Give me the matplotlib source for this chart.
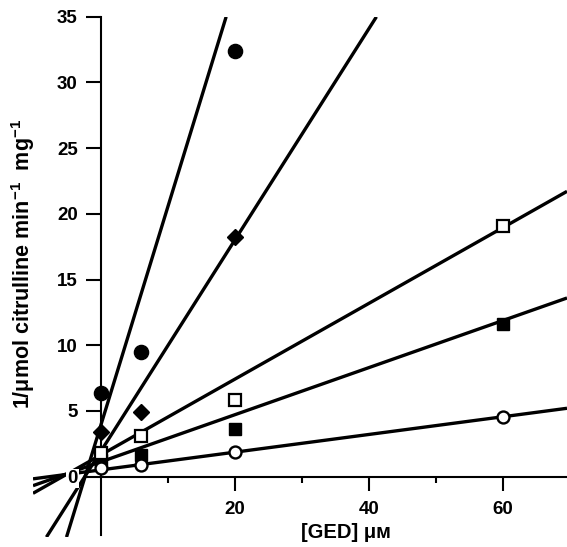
import matplotlib
matplotlib.use("Agg")
import matplotlib.pyplot as plt
from matplotlib.ticker import FixedLocator, NullFormatter

plt.rcParams['font.family'] = ['Liberation Sans', 'DejaVu Sans']
plt.rcParams['font.weight'] = 'bold'
plt.rcParams['mathtext.fontset'] = 'custom'
plt.rcParams['mathtext.rm'] = 'Liberation Sans:bold'
plt.rcParams['mathtext.default'] = 'rm'

# GED concentrations (uM)
conc = [0, 6, 20, 60]

# 1/v at each GED concentration, one series per substrate level
filled_circle = [6.35, 9.5, 32.4]
filled_diamond = [3.4, 4.95, 18.25]
open_square = [1.83, 3.1, 5.85, 19.1]
filled_square = [1.25, 1.65, 3.6, 11.6]
open_circle = [0.66, 0.89, 1.9, 4.57]

# fitted regression lines (slope, intercept) in the same order
fit_slope = [1.66, 0.803, 0.288, 0.179, 0.0673]
fit_intercept = [4.02, 1.98, 1.67, 1.14, 0.52]

x_ticks = [20, 40, 60]
x_minor = [10, 30, 50]
y_ticks = [0, 5, 10, 15, 20, 25, 30, 35]

fig = plt.figure(figsize=(5.67, 5.47), dpi=100)
ax = fig.add_axes([0.0582, 0.0181, 0.9418, 0.9512])
ax.set_xlim(-10.2, 69.6)
ax.set_ylim(-4.6, 35.0)

for m, b in zip(fit_slope, fit_intercept):
    ax.axline((0, b), slope=m, color='black', lw=2.4, zorder=2,
              solid_capstyle='butt')

mk = dict(linestyle='none', zorder=4, markeredgecolor='black')
ax.plot(conc[:3], filled_circle, marker='o', ms=10.2, mfc='black', mew=1, **mk)
ax.plot(conc[:3], filled_diamond, marker='D', ms=8.5, mfc='black', mew=1, **mk)
ax.plot(conc, filled_square, marker='s', ms=8.8, mfc='black', mew=1, **mk)
ax.plot(conc, open_square, marker='s', ms=8.3, mfc='white', mew=1.6, **mk)
ax.plot(conc, open_circle, marker='o', ms=8.6, mfc='white', mew=1.7, **mk)

# axes cross at the origin
for s in ('top', 'right'):
    ax.spines[s].set_visible(False)
ax.spines['left'].set_position(('data', 0))
ax.spines['bottom'].set_position(('data', 0))
ax.spines['left'].set_bounds(-4.45, 35)
ax.spines['bottom'].set_bounds(0, 69.6)
for s in ('left', 'bottom'):
    ax.spines[s].set_linewidth(1.5)
    ax.spines[s].set_zorder(2.5)
ax.set_axisbelow(False)

ax.xaxis.set_major_locator(FixedLocator(x_ticks))
ax.xaxis.set_minor_locator(FixedLocator(x_minor))
ax.xaxis.set_minor_formatter(NullFormatter())
ax.yaxis.set_major_locator(FixedLocator(y_ticks))
ax.tick_params(axis='x', which='major', direction='out', length=10, width=1.5,
               pad=7.5, labelsize=13.5)
ax.tick_params(axis='x', which='minor', direction='out', length=4.5, width=1.5)
ax.tick_params(axis='y', which='major', direction='out', length=11, width=1.5,
               pad=6, labelsize=13.5)
for lab in ax.get_xticklabels() + ax.get_yticklabels():
    lab.set_fontweight('bold')

# white patch behind the "0" so the lines pass under it
zero_tick = ax.yaxis.get_major_ticks()[0]
zero_tick.label1.set_bbox(dict(facecolor='white', edgecolor='none', pad=1.0))

fig.text(0.610, 0.026, '[GED] μᴍ', ha='center', va='center',
         fontsize=14.5, fontweight='bold')
fig.text(0.041, 0.518, '1/μmol citrulline min$^{-1}$  mg$^{-1}$',
         rotation=90, ha='center', va='center', fontsize=15.5,
         fontweight='bold')

fig.savefig('out.png', dpi=100)
